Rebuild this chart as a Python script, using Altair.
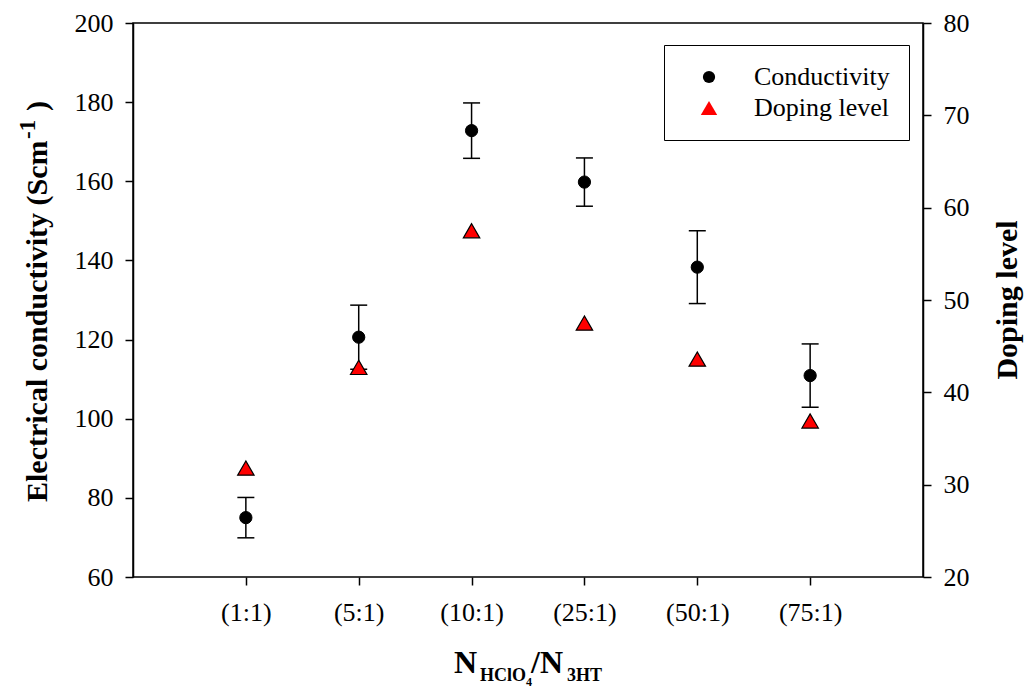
import altair as alt
import pandas as pd

categories = ["(1:1)", "(5:1)", "(10:1)", "(25:1)", "(50:1)", "(75:1)"]
conductivity = [75.0, 120.6, 172.8, 159.8, 138.3, 110.9]
conductivity_err = [5.1, 8.1, 7.0, 6.1, 9.2, 8.0]
doping_level = [31.8, 42.7, 57.5, 47.5, 43.6, 36.9]

series_names = ["Conductivity", "Doping level"]
left_ticks = [60, 80, 100, 120, 140, 160, 180, 200]
right_ticks = [20, 30, 40, 50, 60, 70, 80]

df = pd.DataFrame({
    "category": categories,
    "conductivity": conductivity,
    "err": conductivity_err,
    "doping": doping_level,
})

FONT = "Liberation Serif"

x_enc = alt.X(
    "category:N",
    sort=categories,
    scale=alt.Scale(type="point", padding=1),
    axis=alt.Axis(title=None, labelAngle=0, labelPadding=14, domain=False),
)
left_scale = alt.Scale(domain=[60, 200], nice=False, zero=False)
left_axis = alt.Axis(title=None, values=left_ticks, orient="left", labelPadding=12)
right_scale = alt.Scale(domain=[20, 80], nice=False, zero=False)
right_axis = alt.Axis(title=None, values=right_ticks, orient="right", labelPadding=12)

leg = alt.Legend(title=None, symbolStrokeColor="black", symbolStrokeWidth=1.2, symbolOpacity=1)
shape_scale = alt.Scale(domain=series_names, range=["circle", "triangle-up"])
fill_scale = alt.Scale(domain=series_names, range=["black", "#ff0000"])
size_scale = alt.Scale(domain=series_names, range=[150, 270])

base = alt.Chart(df).transform_calculate(
    lower="datum.conductivity - datum.err",
    upper="datum.conductivity + datum.err",
)

rule = base.mark_rule(color="black", strokeWidth=1.5).encode(
    x=x_enc,
    y=alt.Y("lower:Q", scale=left_scale, axis=left_axis),
    y2="upper:Q",
)
cap_hi = base.mark_tick(orient="horizontal", size=17, thickness=1.5, color="black", opacity=1).encode(
    x=x_enc, y=alt.Y("upper:Q", scale=left_scale, axis=left_axis)
)
cap_lo = base.mark_tick(orient="horizontal", size=17, thickness=1.5, color="black", opacity=1).encode(
    x=x_enc, y=alt.Y("lower:Q", scale=left_scale, axis=left_axis)
)
circ = base.transform_calculate(series="'Conductivity'").mark_point(
    filled=True, stroke="black", strokeWidth=1, opacity=1
).encode(
    x=x_enc,
    y=alt.Y("conductivity:Q", scale=left_scale, axis=left_axis),
    shape=alt.Shape("series:N", scale=shape_scale, legend=leg),
    fill=alt.Fill("series:N", scale=fill_scale, legend=leg),
    size=alt.Size("series:N", scale=size_scale, legend=leg),
)
left = alt.layer(rule, cap_hi, cap_lo, circ)

tri = alt.Chart(df).transform_calculate(series="'Doping level'").mark_point(
    filled=True, stroke="black", strokeWidth=1.2, opacity=1
).encode(
    x=x_enc,
    y=alt.Y("doping:Q", scale=right_scale, axis=right_axis),
    shape=alt.Shape("series:N", scale=shape_scale, legend=leg),
    fill=alt.Fill("series:N", scale=fill_scale, legend=leg),
    size=alt.Size("series:N", scale=size_scale, legend=leg),
)

one = pd.DataFrame({"k": [0]})

def txt(s, x, y, size, angle=0, align="left", baseline="alphabetic"):
    kw = dict(text=s, font=FONT, fontSize=size, fontWeight="bold", color="black",
              align=align, baseline=baseline)
    if angle:
        kw["angle"] = angle
    return alt.Chart(one).mark_text(**kw).encode(x=alt.value(x), y=alt.value(y))

titles = [
    txt("Electrical conductivity (Scm", -86, 479, 30, angle=270),
    txt("-1", -98, 116, 23, angle=270),
    txt(")", -86, 88, 30, angle=270),
    txt("Doping level", 884, 277, 30, angle=270, align="center"),
    txt("N", 321, 650, 32),
    txt("HClO", 347, 658, 18),
    txt("4", 393, 663, 12),
    txt("/N", 398, 650, 32),
    txt("3HT", 434, 658, 18),
]

chart = alt.layer(left, tri, *titles).resolve_scale(y="independent").properties(
    width=790,
    height=554,
    autosize=alt.AutoSizeParams(type="none"),
    padding={"left": 133, "top": 23, "right": 101, "bottom": 111},
).configure_view(
    stroke="black", strokeWidth=1.5
).configure_axis(
    domainColor="black", domainWidth=1.5, tickColor="black", tickWidth=1.5, tickSize=8,
    labelFont=FONT, labelFontSize=26, labelColor="black", grid=False,
).configure_legend(
    orient="none", legendX=531, legendY=22, padding=19, symbolOffset=13, labelOffset=32,
    rowPadding=5, strokeColor="black", fillColor="white", labelFont=FONT, labelFontSize=26,
    labelColor="black", symbolStrokeColor="black", symbolStrokeWidth=1, symbolOpacity=1,
)

chart.save("out.html", embed_options={"renderer": "svg", "actions": False})
